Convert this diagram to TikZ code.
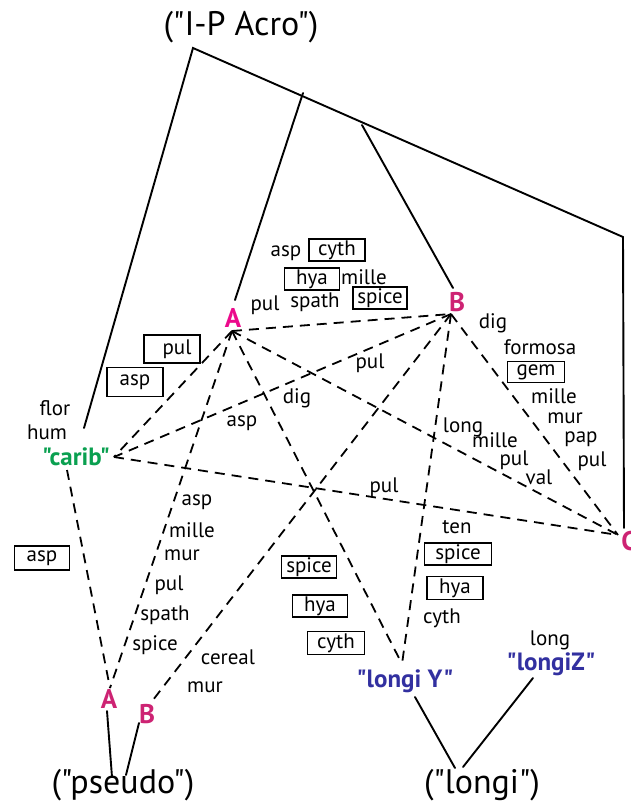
\documentclass[tikz,border=0pt]{standalone}
\usepackage{fontspec}
\setmainfont{PT Sans}[Ligatures=TeXOff]
\definecolor{pinkA}{RGB}{236,10,140}
\definecolor{pinkB}{RGB}{205,35,115}
\definecolor{caribgreen}{RGB}{10,160,80}
\definecolor{longiblue}{RGB}{50,48,160}
\tikzset{
  tree/.style={line width=1.9pt, line cap=round},
  dline/.style={line width=1.8pt, dash pattern=on 10pt off 7pt},
  lab/.style={font=\fontsize{21}{24}\selectfont, inner sep=0pt},
  boxed/.style={lab, draw, line width=1.7pt, inner sep=0pt, minimum height=22pt},
  bigtitle/.style={font=\fontsize{34}{40}\selectfont, inner sep=0pt},
  letter/.style={font=\bfseries\fontsize{27}{30}\selectfont, inner sep=0pt},
  taxon/.style={font=\bfseries\fontsize{25}{28}\selectfont, inner sep=0pt}
}
\begin{document}
\begin{tikzpicture}[x=1pt,y=-1pt]
\useasboundingbox (0,0) rectangle (630,806);

% ---- group titles
\node[bigtitle] (acro)   at (241,27)  {("I-P Acro")};
\node[bigtitle] (pseudo) at (123,785) {("pseudo")};
\node[bigtitle] (longi)  at (482,785) {("longi")};

% ---- lineage labels
\node[letter, text=pinkA] (A)  at (233,318) {A};
\node[letter, text=pinkB] (B)  at (457,302) {B};
\node[letter, text=pinkB] (C)  at (629,541) {C};
\node[letter, text=pinkB] (pA) at (109,699) {A};
\node[letter, text=pinkB] (pB) at (147,714) {B};
\node[taxon, text=caribgreen] (carib)  at (76,457)  {"carib"};
\node[taxon, text=longiblue]  (longiY) at (405,681) {"longi Y"};
\node[taxon, text=longiblue]  (longiZ) at (551,664) {"longiZ"};

% ---- tree skeleton (solid)
\coordinate (apex)   at (193,48);
\coordinate (corner) at (623,237);
\coordinate (hum)    at (84,428);
\coordinate (cEnd)   at (624,528);
\coordinate (aTop)   at (303,93);
\coordinate (aEnd)   at (235,300);
\coordinate (bTop)   at (362,125);
\coordinate (bEnd)   at (453,288);
\draw[tree] (hum) -- (apex) -- (corner) -- (cEnd);
\draw[tree] (aTop) -- (aEnd);
\draw[tree] (bTop) -- (bEnd);

\coordinate (psA)  at (112,777);
\coordinate (psB)  at (126,775);
\coordinate (loY)  at (455,768);
\coordinate (loZ)  at (463,767);
\draw[tree] (psA) -- (107,711);
\draw[tree] (psB) -- (139,723);
\draw[tree] (loY) -- (415,697);
\draw[tree] (loZ) -- (533,678);

% ---- connection points for the dashed links
\coordinate (a)  at (232,331);
\coordinate (b)  at (451,314);
\coordinate (c)  at (618,535);
\coordinate (k)  at (114,457);
\coordinate (kd) at (67,470);
\coordinate (y)  at (402,664);
\coordinate (qa) at (110,688);
\coordinate (qb) at (153,700);

% ---- dashed links
\draw[dline] (a) -- (b);
\draw[dline] (a) -- (k);
\draw[dline] (a) -- (c);
\draw[dline] (a) -- (y);
\draw[dline] (a) -- (qa);
\draw[dline] (b) -- (k);
\draw[dline] (b) -- (qb);
\draw[dline] (b) -- (y);
\draw[dline] (b) -- (c);
\draw[dline] (k) -- (c);
\draw[dline] (kd) -- (qa);

% ---- labels between A and B
\node[lab] (t1) at (286,253) {asp};
\node[boxed, minimum width=56pt] (t2) at (337,250) {cyth};
\node[boxed, minimum width=55pt] (t3) at (312,279) {hya};
\node[lab] (t4) at (364,277) {mille};
\node[lab] (t5) at (265,305) {pul};
\node[lab] (t6) at (315,302) {spath};
\node[boxed, minimum width=54pt] (t7) at (380,298) {spice};

% ---- labels between A and carib
\node[boxed, minimum width=56pt, minimum height=28pt] (u1) at (172,349) {\hspace*{10pt}pul};
\node[boxed, minimum width=56pt, minimum height=29pt] (u2) at (135,382) {asp};
\node[lab] (u3) at (55,408) {flor};
\node[lab] (u4) at (47,432) {hum};

% ---- central labels
\node[lab] (v1) at (297,398) {dig};
\node[lab] (v2) at (242,423) {asp};
\node[lab] (v3) at (370,363) {pul};
\node[lab] (v4) at (384,487) {pul};

% ---- labels between B and C
\node[lab] (w1) at (493,323) {dig};
\node[lab] (w2) at (540,347) {formosa};
\node[boxed, minimum width=57pt, minimum height=21pt] (w3) at (536,372) {gem};
\node[lab] (w4) at (554,396) {mille};
\node[lab] (w5) at (565,418) {mur};
\node[lab] (w6) at (581,439) {pap};
\node[lab] (w7) at (592,461) {pul};

% ---- labels between A and C
\node[lab] (x1) at (463,427) {long};
\node[lab] (x2) at (495,440) {mille};
\node[lab] (x3) at (514,460) {pul};
\node[lab] (x4) at (539,477) {val};

% ---- labels near longi Y
\node[lab] (y1) at (457,527) {ten};
\node[boxed, minimum width=67pt] (y2) at (458,554) {spice};
\node[boxed, minimum width=56pt, minimum height=23pt] (y3) at (455,588) {hya};
\node[lab] (y4) at (442,618) {cyth};
\node[boxed, minimum width=55pt] (y5) at (309,567) {spice};
\node[boxed, minimum width=55pt] (y6) at (320,606) {hya};
\node[boxed, minimum width=57pt, minimum height=23pt] (y7) at (336,643) {cyth};
\node[lab] (y8) at (550,640) {long};

% ---- labels near pseudo
\node[boxed, minimum width=55pt, minimum height=24pt] (z0) at (42,558) {asp};
\node[lab] (z1) at (197,502) {asp};
\node[lab] (z2) at (192,530) {mille};
\node[lab] (z3) at (182,555) {mur};
\node[lab] (z4) at (169,585) {pul};
\node[lab] (z5) at (165,615) {spath};
\node[lab] (z6) at (155,645) {spice};
\node[lab] (z7) at (228,657) {cereal};
\node[lab] (z8) at (205,687) {mur};
\end{tikzpicture}
\end{document}
